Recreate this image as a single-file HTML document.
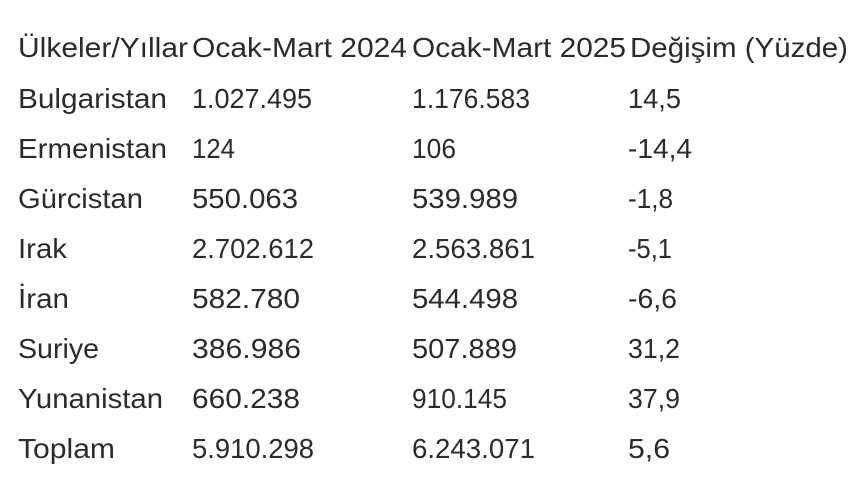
<!DOCTYPE html>
<html><head><meta charset="utf-8"><style>
html,body{margin:0;padding:0;background:#fff;width:860px;height:485px;overflow:hidden}
svg text{font-family:"Liberation Sans",sans-serif;font-size:27.5px;fill:#2b2b2b}
</style></head><body>
<svg width="860" height="485" xmlns="http://www.w3.org/2000/svg">
<g>
<text x="18" y="57" textLength="170" lengthAdjust="spacingAndGlyphs">Ülkeler/Yıllar</text>
<text x="192" y="57" textLength="215" lengthAdjust="spacingAndGlyphs">Ocak-Mart 2024</text>
<text x="412" y="57" textLength="214" lengthAdjust="spacingAndGlyphs">Ocak-Mart 2025</text>
<text x="630" y="57" textLength="218" lengthAdjust="spacingAndGlyphs">Değişim (Yüzde)</text>

<text x="18" y="108" textLength="149" lengthAdjust="spacingAndGlyphs">Bulgaristan</text>
<text x="192" y="108" textLength="120" lengthAdjust="spacingAndGlyphs">1.027.495</text>
<text x="412" y="108" textLength="118" lengthAdjust="spacingAndGlyphs">1.176.583</text>
<text x="628" y="108" textLength="53" lengthAdjust="spacingAndGlyphs">14,5</text>

<text x="18" y="158" textLength="149" lengthAdjust="spacingAndGlyphs">Ermenistan</text>
<text x="192" y="158" textLength="43" lengthAdjust="spacingAndGlyphs">124</text>
<text x="412" y="158" textLength="44" lengthAdjust="spacingAndGlyphs">106</text>
<text x="628" y="158" textLength="64" lengthAdjust="spacingAndGlyphs">-14,4</text>

<text x="18" y="208" textLength="125" lengthAdjust="spacingAndGlyphs">Gürcistan</text>
<text x="192" y="208" textLength="106" lengthAdjust="spacingAndGlyphs">550.063</text>
<text x="412" y="208" textLength="106" lengthAdjust="spacingAndGlyphs">539.989</text>
<text x="628" y="208" textLength="45" lengthAdjust="spacingAndGlyphs">-1,8</text>

<text x="18" y="258" textLength="49" lengthAdjust="spacingAndGlyphs">Irak</text>
<text x="192" y="258" textLength="122" lengthAdjust="spacingAndGlyphs">2.702.612</text>
<text x="412" y="258" textLength="123" lengthAdjust="spacingAndGlyphs">2.563.861</text>
<text x="628" y="258" textLength="44" lengthAdjust="spacingAndGlyphs">-5,1</text>

<text x="18" y="308" textLength="51" lengthAdjust="spacingAndGlyphs">İran</text>
<text x="192" y="308" textLength="108" lengthAdjust="spacingAndGlyphs">582.780</text>
<text x="412" y="308" textLength="106" lengthAdjust="spacingAndGlyphs">544.498</text>
<text x="628" y="308" textLength="49" lengthAdjust="spacingAndGlyphs">-6,6</text>

<text x="18" y="358" textLength="81" lengthAdjust="spacingAndGlyphs">Suriye</text>
<text x="192" y="358" textLength="109" lengthAdjust="spacingAndGlyphs">386.986</text>
<text x="412" y="358" textLength="105" lengthAdjust="spacingAndGlyphs">507.889</text>
<text x="628" y="358" textLength="52" lengthAdjust="spacingAndGlyphs">31,2</text>

<text x="18" y="408" textLength="145" lengthAdjust="spacingAndGlyphs">Yunanistan</text>
<text x="192" y="408" textLength="108" lengthAdjust="spacingAndGlyphs">660.238</text>
<text x="412" y="408" textLength="95" lengthAdjust="spacingAndGlyphs">910.145</text>
<text x="628" y="408" textLength="52" lengthAdjust="spacingAndGlyphs">37,9</text>

<text x="18" y="458" textLength="97" lengthAdjust="spacingAndGlyphs">Toplam</text>
<text x="192" y="458" textLength="122" lengthAdjust="spacingAndGlyphs">5.910.298</text>
<text x="412" y="458" textLength="123" lengthAdjust="spacingAndGlyphs">6.243.071</text>
<text x="628" y="458" textLength="42" lengthAdjust="spacingAndGlyphs">5,6</text>
</g>
</svg>
</body></html>
